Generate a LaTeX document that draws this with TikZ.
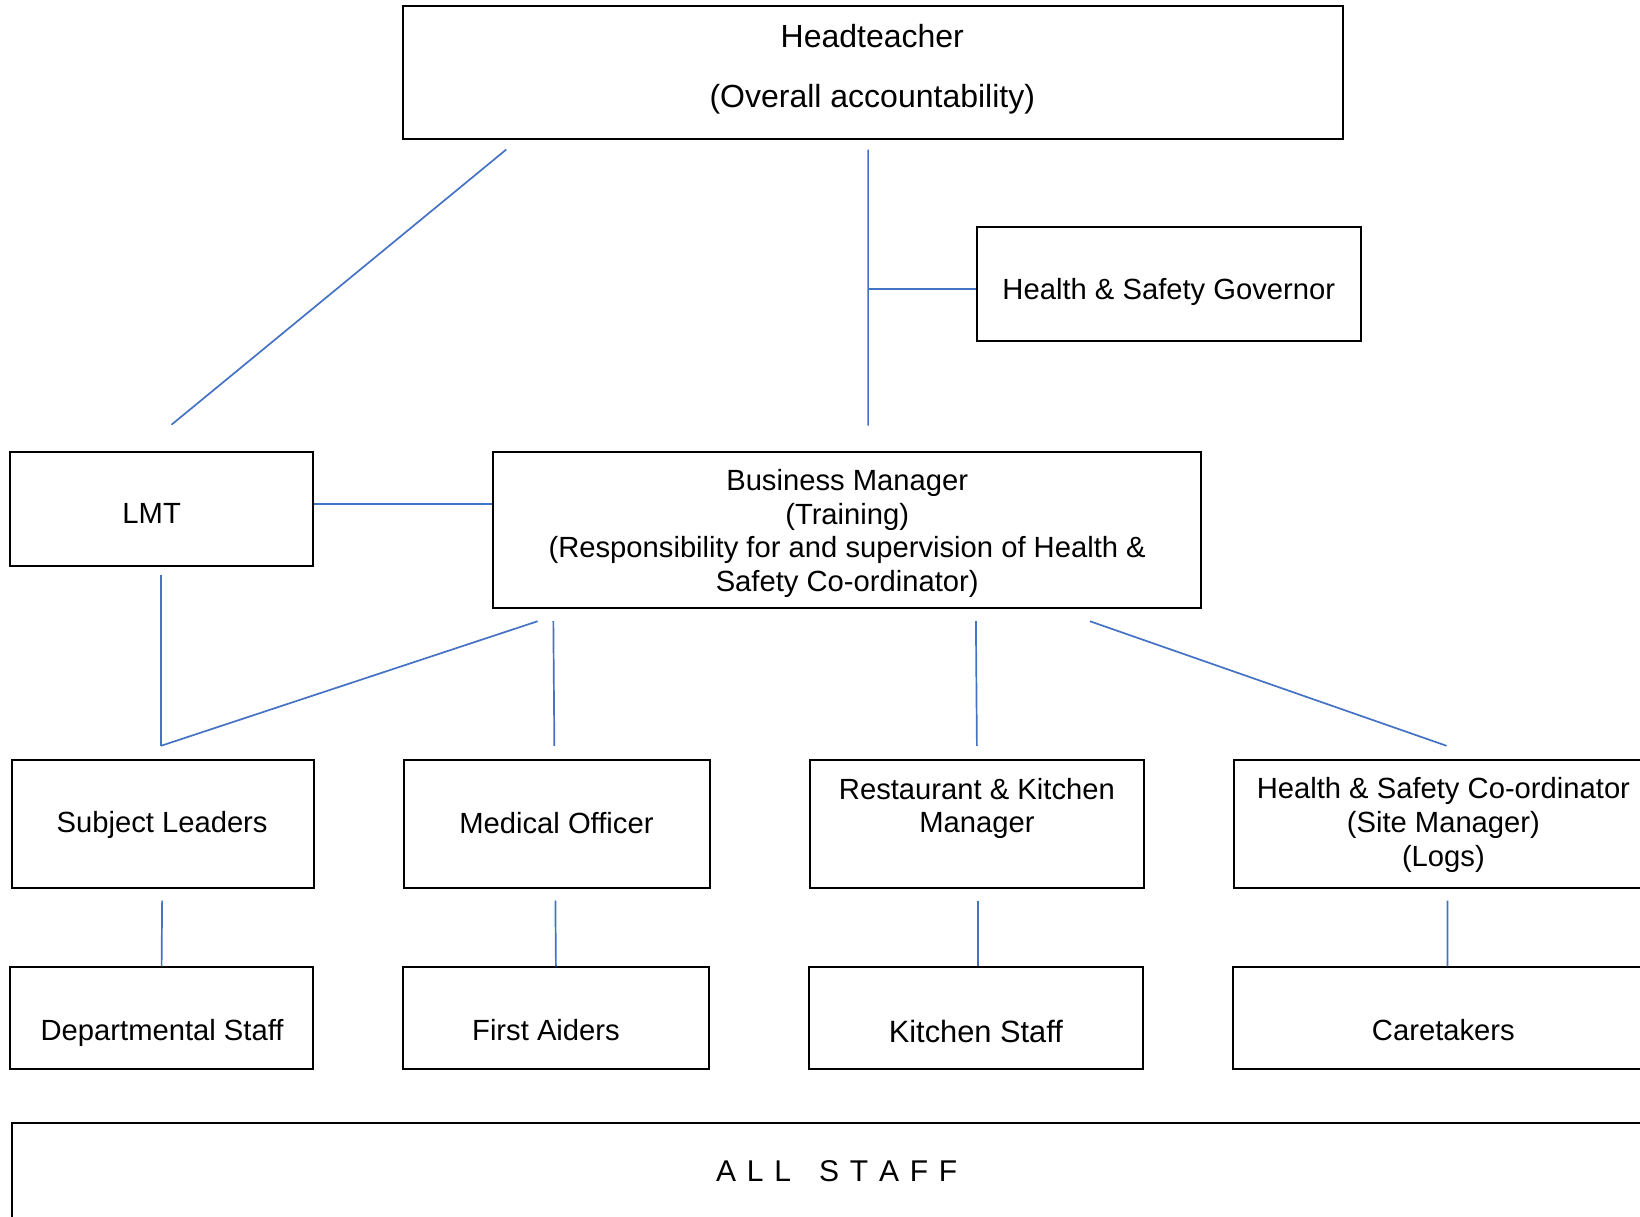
\documentclass[tikz,border=0pt]{standalone}
\usepackage{fontspec}
\setmainfont{Liberation Sans}
\usetikzlibrary{calc}
\definecolor{linkblue}{HTML}{4472C4}
\tikzset{
  box/.style 2 args={draw=black, line width=1pt, minimum width=#1*0.523pt, minimum height=#2*0.523pt, inner sep=0pt},
  conn/.style={draw=linkblue, line width=0.85pt},
  lbl/.style={inner sep=0pt, align=center, font=\fontsize{14.6}{16.9}\selectfont}
}
\newcommand{\ls}{\hspace{5.4pt}}
\begin{document}
\begin{tikzpicture}[x=0.523pt, y=-0.523pt]
\clip (0,0) rectangle (1568,1163);
% boxes
\node[box={899}{127}] (head) at (834.5,69.5) {};
\node[box={367}{109}] (gov) at (1117.5,271.5) {};
\node[box={289}{109}] (lmt) at (154.5,486.5) {};
\node[box={677}{149}] (bm) at (809.5,506.5) {};
\node[box={289}{122}] (sl) at (155.5,788) {};
\node[box={293}{122}] (mo) at (532.5,788) {};
\node[box={320}{122}] (rk) at (934,788) {};
\node[box={400}{122}] (hs) at (1380,788) {};
\node[box={289}{97}] (ds) at (154.5,973.5) {};
\node[box={293}{97}] (fa) at (531.5,973.5) {};
\node[box={320}{97}] (ks) at (933,973.5) {};
\node[box={401}{97}] (ct) at (1379.5,973.5) {};
\node[box={1578}{116}] (all) at (800,1132) {};
% texts
\node[lbl, font=\fontsize{16}{18.4}\selectfont] (headt) at (834,66) {Headteacher\\[11.6pt](Overall accountability)};
\node[lbl] (govt) at (1117.5,279) {Health \& Safety Governor};
\node[lbl] (lmtt) at (145,491) {LMT};
\node[lbl] (bmt) at (810,510) {Business Manager\\(Training)\\(Responsibility for and supervision of Health \&\\Safety Co-ordinator)};
\node[lbl] (slt) at (155,789) {Subject Leaders};
\node[lbl] (mot) at (532,787) {Medical Officer};
\node[lbl] (rkt) at (934,773) {Restaurant \& Kitchen\\Manager};
\node[lbl] (hst) at (1380,789) {Health \& Safety Co-ordinator\\(Site Manager)\\(Logs)};
\node[lbl] (dst) at (155,988) {Departmental Staff};
\node[lbl] (fat) at (522,985) {First Aiders};
\node[lbl, font=\fontsize{15.4}{18}\selectfont] (kst) at (933,986) {Kitchen Staff};
\node[lbl] (ctt) at (1380,985) {Caretakers};
\node[lbl, font=\fontsize{15}{18}\selectfont] (allt) at (800,1120) {A\ls L\ls L\hspace{14pt}S\ls T\ls A\ls F\ls F};
% connectors
\coordinate (v1) at ($(head.south)+(-4.5,9)$);
\draw[conn] ($(head.south west)+(100,9)$) -- ($(lmt.north)+(9.5,-25)$);
\draw[conn] (v1) -- ($(bm.north)+(20.5,-24)$);
\draw[conn] ($(gov.west)+(0,5)$) -- ($(gov.west -| v1)+(0,5)$);
\draw[conn] ($(lmt.east)+(0,-4.5)$) -- ($(bm.west |- lmt.east)+(0,-4.5)$);
\coordinate (sj) at ($(sl.north)+(-1.5,-13)$);
\draw[conn] ($(lmt.south)+(-0.5,8)$) -- (sj);
\draw[conn] ($(bm.south west)+(44,12)$) -- (sj);
\draw[conn] ($(bm.south west)+(59,12)$) -- ($(mo.north)+(-2.5,-13)$);
\draw[conn] ($(bm.south west)+(463,12)$) -- ($(rk.north)+(0,-13)$);
\draw[conn] ($(bm.south west)+(572,12)$) -- ($(hs.north)+(3,-13)$);
\draw[conn] ($(sl.south)+(-0.5,11)$) -- (ds.north);
\draw[conn] ($(mo.south)+(-1.5,11)$) -- (fa.north);
\draw[conn] ($(rk.south)+(1,11)$) -- ($(ks.north)+(2,0)$);
\draw[conn] ($(hs.south)+(4,11)$) -- ($(ct.north)+(4.5,0)$);
\end{tikzpicture}
\end{document}
